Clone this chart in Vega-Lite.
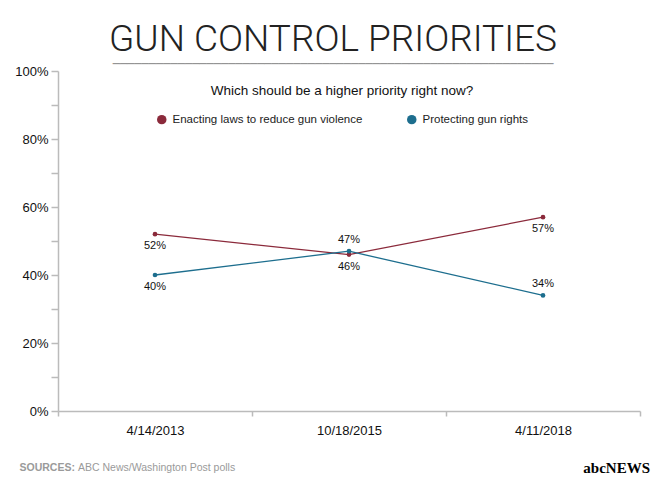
{
  "$schema": "https://vega.github.io/schema/vega-lite/v6.json",
  "autosize": {"type": "pad"},
  "padding": {"left": 14, "top": 21, "right": 5, "bottom": 5},
  "background": "white",
  "bounds": "flush",
  "config": {"view": {"stroke": null}, "font": "Liberation Sans"},
  "title": {
    "text": "GUN CONTROL PRIORITIES",
    "subtitle": "─────────────────────────────────────────────────────────────",
    "font": "Roboto, DejaVu Sans Condensed",
    "fontSize": 37,
    "fontWeight": 300,
    "color": "#222222",
    "subtitleFont": "DejaVu Sans Mono",
    "subtitleFontSize": 12,
    "subtitleColor": "#8a8a8a",
    "subtitlePadding": 0,
    "anchor": "middle",
    "frame": "group",
    "dx": -16,
    "offset": -6
  },
  "vconcat": [
    {
      "width": 582,
      "height": 340,
      "title": {
        "text": "abcNEWS",
        "orient": "bottom",
        "anchor": "end",
        "frame": "group",
        "font": "Liberation Serif",
        "fontWeight": "bold",
        "fontSize": 15,
        "color": "#000000",
        "dx": 10,
        "offset": -12
      },
      "data": {
        "values": [
          {"date": "4/14/2013", "series": "Enacting laws to reduce gun violence", "value": 0.52},
          {"date": "10/18/2015", "series": "Enacting laws to reduce gun violence", "value": 0.46},
          {"date": "4/11/2018", "series": "Enacting laws to reduce gun violence", "value": 0.57},
          {"date": "4/14/2013", "series": "Protecting gun rights", "value": 0.40},
          {"date": "10/18/2015", "series": "Protecting gun rights", "value": 0.47},
          {"date": "4/11/2018", "series": "Protecting gun rights", "value": 0.34}
        ]
      },
      "encoding": {
        "x": {
          "field": "date",
          "type": "ordinal",
          "sort": null,
          "scale": {"type": "band", "paddingInner": 0, "paddingOuter": 0},
          "axis": {
            "labelAngle": 0,
            "labelFontSize": 13,
            "labelColor": "#111111",
            "labelPadding": 8,
            "tickBand": "extent",
            "tickSize": 5,
            "tickColor": "#bbbbbb",
            "tickWidth": 1.5,
            "domainColor": "#bbbbbb",
            "domainWidth": 1.5,
            "title": "ABC News/Washington Post polls",
            "titleFontSize": 10.5,
            "titleFontWeight": "normal",
            "titleColor": "#9a9a9a",
            "titleAlign": "left",
            "titleBaseline": "middle",
            "titleAnchor": "start",
            "titleX": 19.5,
            "titleY": 56
          }
        },
        "y": {
          "field": "value",
          "type": "quantitative",
          "scale": {"domain": [0, 1]},
          "axis": {
            "values": [0, 0.1, 0.2, 0.3, 0.4, 0.5, 0.6, 0.7, 0.8, 0.9, 1],
            "format": ".0%",
            "labelExpr": "round(datum.value * 100) % 20 === 0 ? datum.label : ''",
            "labelFontSize": 13,
            "labelColor": "#111111",
            "labelPadding": 3,
            "tickSize": 7,
            "tickColor": "#bbbbbb",
            "tickWidth": 1.5,
            "domainColor": "#bbbbbb",
            "domainWidth": 1.5,
            "grid": false,
            "title": "SOURCES:",
            "titleFontSize": 10.5,
            "titleFontWeight": "bold",
            "titleColor": "#9a9a9a",
            "titleAngle": 0,
            "titleAlign": "left",
            "titleBaseline": "middle",
            "titleAnchor": "start",
            "titleX": -39,
            "titleY": 396
          }
        },
        "color": {
          "field": "series",
          "type": "nominal",
          "sort": null,
          "scale": {
            "domain": ["Enacting laws to reduce gun violence", "Protecting gun rights"],
            "range": ["#8b2a3b", "#1d6e8e"]
          },
          "legend": {
            "orient": "none",
            "legendX": 98,
            "legendY": 13,
            "direction": "horizontal",
            "title": "Which should be a higher priority right now?",
            "titleAnchor": "middle",
            "titleFontSize": 13.5,
            "titleFontWeight": "normal",
            "titleColor": "#111111",
            "titleLimit": 500,
            "titlePadding": 16,
            "labelFontSize": 11.5,
            "labelColor": "#222222",
            "labelLimit": 400,
            "labelOffset": 5,
            "symbolType": "circle",
            "symbolSize": 90,
            "symbolStrokeWidth": 0,
            "columnPadding": 43,
            "padding": 0
          }
        }
      },
      "layer": [
        {"mark": {"type": "point", "filled": true, "size": 22, "opacity": 1}},
        {"mark": {"type": "line", "strokeWidth": 1.3}},
        {
          "transform": [{"filter": "datum.series === 'Protecting gun rights' && datum.date !== '4/14/2013'"}],
          "mark": {"type": "text", "dy": -11, "fontSize": 11, "color": "#111111"},
          "encoding": {"text": {"field": "value", "format": ".0%"}, "color": {"value": "#111111"}}
        },
        {
          "transform": [{"filter": "!(datum.series === 'Protecting gun rights' && datum.date !== '4/14/2013')"}],
          "mark": {"type": "text", "dy": 12, "fontSize": 11, "color": "#111111"},
          "encoding": {"text": {"field": "value", "format": ".0%"}, "color": {"value": "#111111"}}
        }
      ]
    }
  ]
}
